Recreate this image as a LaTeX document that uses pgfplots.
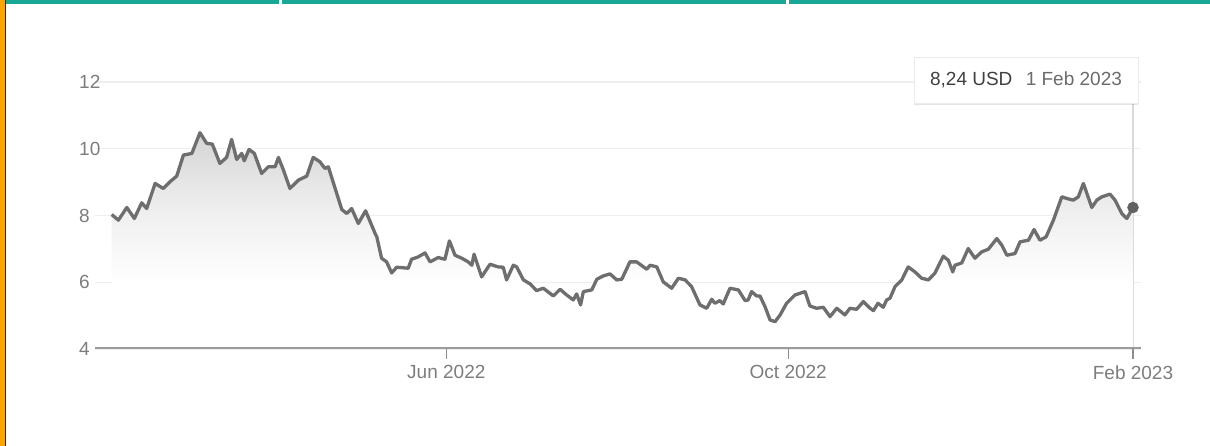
\documentclass[border=0pt]{standalone}
\usepackage{fontspec}
\setmainfont{Liberation Sans}
\usepackage{pgfplots}
\usepackage{pgfplotstable}
\pgfplotsset{compat=1.18}
\usetikzlibrary{shadows}
\definecolor{linegray}{RGB}{110,110,110}
\definecolor{labgray}{RGB}{125,125,125}
\definecolor{axgray}{RGB}{155,155,155}
\definecolor{gridgray}{RGB}{238,238,238}
\definecolor{tealbar}{RGB}{26,168,150}
\definecolor{orangebar}{RGB}{250,165,0}
\pgfdeclareverticalshading{areafade}{100bp}{color(0bp)=(white); color(40bp)=(white); color(48bp)=(black!3); color(56bp)=(black!6); color(64bp)=(black!10); color(75bp)=(black!17); color(100bp)=(black!17)}

% day 0 = 1 Feb 2022, price in USD
\pgfplotstableread{
d v
0.6 8.03
3.0 7.86
6.0 8.24
8.7 7.91
11.3 8.38
13.1 8.21
16.1 8.96
19.0 8.81
21.4 9.01
23.8 9.18
26.2 9.81
29.2 9.86
32.1 10.48
34.5 10.16
36.5 10.14
39.2 9.56
41.6 9.74
43.4 10.28
45.2 9.68
47.0 9.86
47.9 9.64
49.6 9.98
51.5 9.86
54.1 9.26
56.5 9.46
58.9 9.46
60.1 9.74
61.8 9.38
64.2 8.81
67.2 9.06
70.2 9.18
72.5 9.74
74.9 9.61
76.7 9.41
77.9 9.46
82.7 8.18
84.5 8.06
86.2 8.21
88.6 7.76
91.2 8.14
94.6 7.46
95.2 7.36
96.9 6.72
98.7 6.61
100.5 6.28
102.3 6.45
106.4 6.42
107.6 6.69
110.0 6.76
112.4 6.88
114.2 6.61
117.1 6.74
119.5 6.69
121.1 7.24
123.1 6.81
125.5 6.72
127.8 6.61
129.1 6.51
129.9 6.84
132.6 6.16
135.6 6.54
138.5 6.46
140.3 6.45
141.5 6.07
143.9 6.51
145.1 6.46
147.5 6.07
149.9 5.95
152.2 5.75
154.6 5.82
158.2 5.59
160.6 5.79
162.9 5.62
165.3 5.47
166.5 5.65
167.9 5.32
168.9 5.72
171.9 5.77
173.7 6.09
176.0 6.19
178.4 6.25
180.8 6.07
182.6 6.09
185.5 6.61
187.9 6.61
191.5 6.39
192.7 6.51
195.1 6.46
197.4 6.01
200.4 5.82
202.8 6.12
205.2 6.07
207.5 5.87
210.5 5.32
212.9 5.22
214.7 5.49
215.8 5.37
217.6 5.45
218.8 5.35
221.2 5.82
224.2 5.77
226.6 5.45
227.7 5.47
228.9 5.72
230.7 5.59
231.9 5.59
233.7 5.27
235.5 4.87
237.3 4.82
239.1 5.02
241.4 5.37
244.4 5.62
248.0 5.72
249.7 5.29
252.1 5.22
254.5 5.25
256.9 4.97
259.3 5.22
262.2 5.02
264.0 5.22
266.4 5.19
268.8 5.42
271.2 5.22
272.4 5.15
274.0 5.37
275.9 5.25
277.1 5.47
278.3 5.52
280.1 5.87
282.5 6.07
284.8 6.46
287.2 6.31
289.6 6.12
292.0 6.07
294.3 6.27
297.3 6.78
299.1 6.66
300.7 6.31
301.5 6.51
303.9 6.58
306.2 7.01
308.6 6.72
311.0 6.91
313.4 6.99
316.4 7.31
318.2 7.11
320.0 6.81
322.9 6.86
324.7 7.21
327.7 7.26
329.7 7.58
331.8 7.26
334.0 7.36
336.6 7.86
339.6 8.56
341.4 8.51
343.7 8.46
345.5 8.56
347.3 8.96
350.3 8.24
352.1 8.46
353.9 8.56
356.8 8.64
358.6 8.46
361.0 8.06
362.8 7.91
365.0 8.24
}\price

\begin{document}
\begin{tikzpicture}[x=1pt,y=1pt]
\fill[white] (0,0) rectangle (1210,446);
\fill[orangebar] (0,0) rectangle (4.6,446);
\fill[black!85] (4.6,0) rectangle (6.4,446);
\fill[tealbar] (6.4,442) rectangle (1210,446);
\fill[white] (278.5,442) rectangle (281.5,446);
\fill[white] (785.5,442) rectangle (788.5,446);
\begin{axis}[
  at={(95pt,97pt)}, anchor=south west, scale only axis,
  width=1046pt, height=267pt,
  xmin=-5.35, xmax=367.86, ymin=4, ymax=12,
  axis line style={draw=none},
  xtick={120,242,365},
  xticklabels={Jun 2022,Oct 2022,Feb 2023},
  ytick={4,6,8,10,12},
  xtick pos=bottom, ytick pos=left,
  tick align=outside,
  major tick length=10pt,
  xtick style={draw=black!45, line width=1.3pt},
  ytick style={draw=none},
  ymajorgrids,
  grid style={draw=gridgray, line width=1.4pt},
  ticklabel style={font=\fontsize{19}{22}\selectfont, text=labgray},
  xticklabel style={yshift=-3pt},
  /pgf/number format/assume math mode=true,
  yticklabel style={anchor=west, xshift=-6pt, inner sep=0pt},
]
\draw[black!15, line width=1.2pt] (axis cs:365,4) -- (axis cs:365,11.37);
\addplot[draw=none, shading=areafade]
  table[x=d,y=v]{\price} -- (axis cs:365,4) -- (axis cs:0.6,4) -- cycle;
\addplot[draw=linegray, line width=3.3pt, line join=round] table[x=d,y=v]{\price};
\addplot[only marks, mark=*, mark size=5.5pt, mark options={fill=black!62, draw=black!62}] coordinates {(365,8.24)};
\draw[axgray, line width=3pt] (rel axis cs:0,0) -- (rel axis cs:1,0);
\end{axis}
\node[fill=white, draw=black!8, drop shadow={shadow xshift=0pt, shadow yshift=-2pt, opacity=0.22}, minimum width=224pt, minimum height=46pt, inner sep=0pt, font=\fontsize{19}{22}\selectfont] at (1026,366)
  {{\color{black!75}8,24 USD}\hspace{0.7em}{\color{black!58}1 Feb 2023}};
\end{tikzpicture}
\end{document}
